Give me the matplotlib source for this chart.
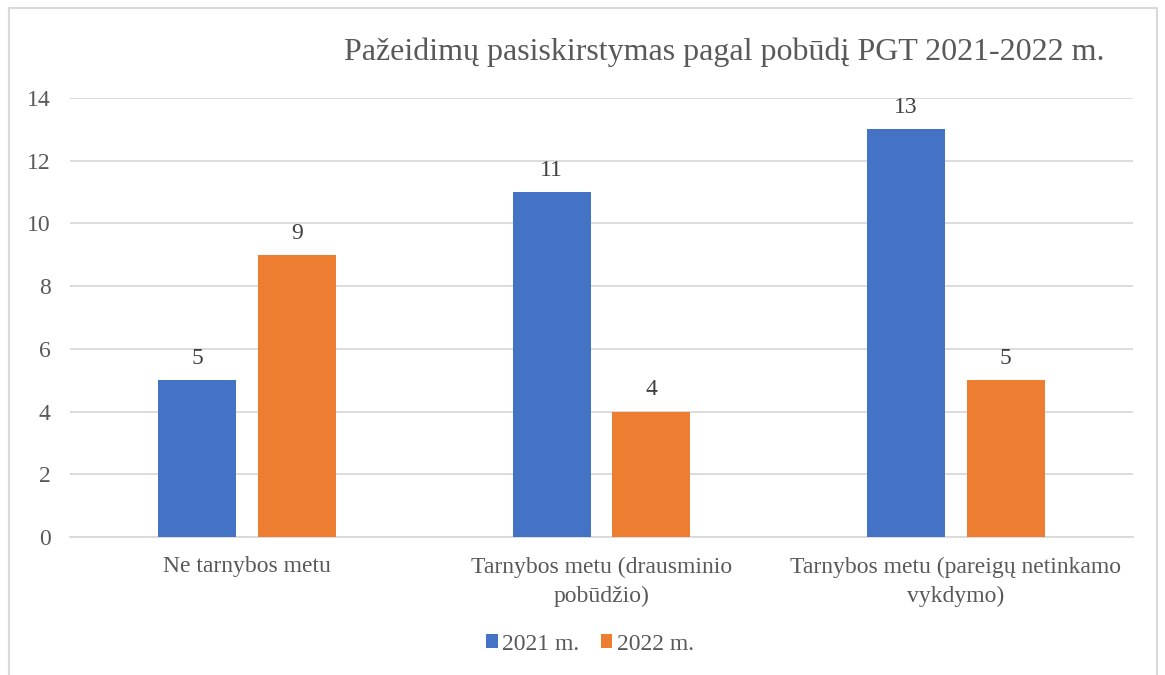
import matplotlib
matplotlib.use("Agg")
import matplotlib.pyplot as plt
from matplotlib.patches import Rectangle
import numpy as np

categories = ["Ne tarnybos metu",
              "Tarnybos metu (drausminio\npobūdžio)",
              "Tarnybos metu (pareigų netinkamo\nvykdymo)"]
series_names = ["2021 m.", "2022 m."]
values_2021 = [5, 11, 13]
values_2022 = [9, 4, 5]
y_ticks = [0, 2, 4, 6, 8, 10, 12, 14]

BLUE = "#4472C4"
ORANGE = "#ED7D31"
TEXT = "#595959"
GRID = "#D9D9D9"

plt.rcParams["font.family"] = ["Liberation Serif", "DejaVu Serif"]

fig = plt.figure(figsize=(11.65, 6.75), dpi=100)
ax = fig.add_axes([70 / 1165, 1 - 537 / 675, (1133 - 70) / 1165, (537 - 98) / 675])

# outer chart border
fig.patches.append(Rectangle((9 / 1165, -0.05), (1157 - 9) / 1165, 1.05 - 8 / 675,
                             transform=fig.transFigure, fill=False,
                             edgecolor=GRID, linewidth=1.5))

x = np.arange(len(categories))
width = 0.22
offset = 0.141

bars1 = ax.bar(x - offset, values_2021, width, color=BLUE, label=series_names[0], zorder=3)
bars2 = ax.bar(x + offset, values_2022, width, color=ORANGE, label=series_names[1], zorder=3)

for bars in (bars1, bars2):
    for b in bars:
        ax.annotate(str(int(b.get_height())),
                    (b.get_x() + b.get_width() / 2, b.get_height()),
                    xytext=(0, 8), textcoords="offset points",
                    ha="center", va="bottom", fontsize=17, color="#404040")

ax.set_xlim(-0.5, 2.5)
ax.set_ylim(0, 14)
ax.set_yticks(y_ticks)
ax.set_xticks(x)
ax.set_xticklabels(categories, fontsize=17, color=TEXT, linespacing=1.5)
ax.tick_params(axis="y", labelsize=17, labelcolor=TEXT, length=0, pad=14)
ax.tick_params(axis="x", length=0, pad=14)

ax.grid(axis="y", color=GRID, linewidth=1.3, zorder=0)
for s in ["top", "right", "left"]:
    ax.spines[s].set_visible(False)
ax.spines["bottom"].set_color(GRID)
ax.spines["bottom"].set_linewidth(1.3)

fig.text(724 / 1165, 1 - 52 / 675, "Pažeidimų pasiskirstymas pagal pobūdį PGT 2021-2022 m.",
         ha="center", va="center", fontsize=23, color=TEXT)

fig.legend(handles=[bars1, bars2], labels=series_names, loc="center",
           bbox_to_anchor=(590 / 1165, 1 - 644 / 675), ncol=2, frameon=False,
           fontsize=17, labelcolor=TEXT, handlelength=0.5, handleheight=0.5,
           handletextpad=0.2, columnspacing=0.9)

fig.savefig("out.png", dpi=100)
